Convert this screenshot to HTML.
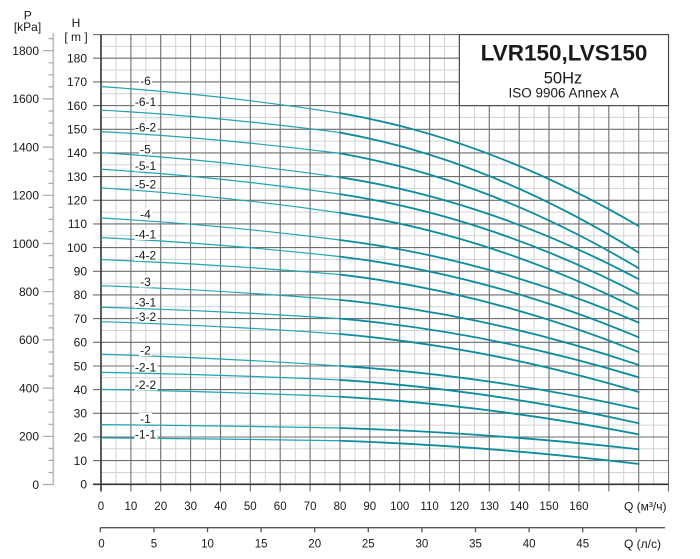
<!DOCTYPE html>
<html><head><meta charset="utf-8"><style>
html,body{margin:0;padding:0;background:#fff;}
svg{display:block;}
text{font-family:"Liberation Sans",Arial,sans-serif;fill:#1a1a1a;}
</style></head><body>
<svg width="700" height="559" viewBox="0 0 700 559" xmlns="http://www.w3.org/2000/svg">
<rect width="700" height="559" fill="#fff"/>
<!-- minor grid -->
<path fill="none" stroke="#d2d2d2" stroke-width="1" d="
M115.9 34.6V484.3M145.8 34.6V484.3M175.7 34.6V484.3M205.5 34.6V484.3M235.4 34.6V484.3M265.3 34.6V484.3M295.2 34.6V484.3M325 34.6V484.3M354.9 34.6V484.3M384.8 34.6V484.3M414.6 34.6V484.3M444.5 34.6V484.3M474.4 34.6V484.3M504.2 34.6V484.3M534.1 34.6V484.3M564 34.6V484.3M593.9 34.6V484.3M623.7 34.6V484.3M653.6 34.6V484.3
M101 472.5H668.5M101 448.8H668.5M101 425.1H668.5M101 401.5H668.5M101 377.8H668.5M101 354.1H668.5M101 330.5H668.5M101 306.8H668.5M101 283.1H668.5M101 259.4H668.5M101 235.8H668.5M101 212.1H668.5M101 188.4H668.5M101 164.8H668.5M101 141.1H668.5M101 117.4H668.5M101 93.8H668.5M101 70.1H668.5M101 46.4H668.5"/>
<!-- major grid -->
<path fill="none" stroke="#6e6e6e" stroke-width="1.1" d="
M130.9 34.6V491.5M160.7 34.6V491.5M190.6 34.6V491.5M220.5 34.6V491.5M250.3 34.6V491.5M280.2 34.6V491.5M310.1 34.6V491.5M340 34.6V491.5M369.8 34.6V491.5M399.7 34.6V491.5M429.6 34.6V491.5M459.4 34.6V491.5M489.3 34.6V491.5M519.2 34.6V491.5M549 34.6V491.5M578.9 34.6V491.5M608.8 34.6V491.5M638.7 34.6V491.5M668.5 34.6V491.5
M93 460.6H668.5M93 437H668.5M93 413.3H668.5M93 389.6H668.5M93 366H668.5M93 342.3H668.5M93 318.6H668.5M93 294.9H668.5M93 271.3H668.5M93 247.6H668.5M93 223.9H668.5M93 200.3H668.5M93 176.6H668.5M93 152.9H668.5M93 129.3H668.5M93 105.6H668.5M93 81.9H668.5M93 58.2H668.5M93 34.6H668.5"/>
<!-- axes -->
<path fill="none" stroke="#333" stroke-width="1.6" d="M101 34.6V491.5M93 484.3H668.5"/>
<!-- title box -->
<rect x="459.4" y="34.6" width="209.1" height="71" fill="#fff" stroke="#444" stroke-width="1.1"/>
<text x="564" y="60.7" font-size="22.5" font-weight="bold" text-anchor="middle">LVR150,LVS150</text>
<text x="563" y="83.3" font-size="16.5" text-anchor="middle">50Hz</text>
<text x="563.7" y="97.7" font-size="13.5" text-anchor="middle">ISO 9906 Annex A</text>
<!-- curves: segment 0-80 -->
<g fill="none" stroke="#23a3b3" stroke-width="1.2">
<path d="M101 86.64Q220.48 94.6 339.96 113.15"/>
<path d="M101 110.08Q220.48 116.82 339.96 132.56"/>
<path d="M101 131.62Q220.48 138.15 339.96 153.39"/>
<path d="M101 152.68Q220.48 160.07 339.96 177.3"/>
<path d="M101 169.25Q220.48 176.71 339.96 194.11"/>
<path d="M101 187.95Q220.48 195.41 339.96 212.81"/>
<path d="M101 218.01Q220.48 224.62 339.96 240.03"/>
<path d="M101 237.66Q220.48 243.34 339.96 256.6"/>
<path d="M101 259.67Q220.48 264.15 339.96 274.58"/>
<path d="M101 285.71Q220.48 289.97 339.96 299.91"/>
<path d="M101 307.25Q220.48 310.66 339.96 318.61"/>
<path d="M101 321.69Q220.48 325.38 339.96 334"/>
<path d="M101 354.35Q220.48 357.83 339.96 365.95"/>
<path d="M101 372.34Q220.48 374.61 339.96 379.92"/>
<path d="M101 389.38Q220.48 391.59 339.96 396.72"/>
<path d="M101 424.65Q220.48 425.65 339.96 427.97"/>
<path d="M101 437.91Q220.48 438.76 339.96 440.75"/>
</g>
<!-- curves: segment 80-180 -->
<g fill="none" stroke="#0c8c9c" stroke-width="1.8" stroke-linecap="round">
<path d="M339.96 113.15Q489.31 138.55 638.66 226.06"/>
<path d="M339.96 132.56Q489.31 159.57 638.66 252.57"/>
<path d="M339.96 153.39Q489.31 179.22 638.66 268.19"/>
<path d="M339.96 177.3Q489.31 200.19 638.66 279.08"/>
<path d="M339.96 194.11Q489.31 216.59 638.66 293.99"/>
<path d="M339.96 212.81Q489.31 234.53 638.66 309.38"/>
<path d="M339.96 240.03Q489.31 258.61 638.66 322.63"/>
<path d="M339.96 256.6Q489.31 274.75 638.66 337.31"/>
<path d="M339.96 274.58Q489.31 292.01 638.66 351.98"/>
<path d="M339.96 299.91Q489.31 314.56 638.66 365"/>
<path d="M339.96 318.61Q489.31 331.82 638.66 377.31"/>
<path d="M339.96 334Q489.31 347.04 638.66 391.99"/>
<path d="M339.96 365.95Q489.31 375.65 638.66 409.03"/>
<path d="M339.96 379.92Q489.31 389.67 638.66 423.23"/>
<path d="M339.96 396.72Q489.31 405.2 638.66 434.36"/>
<path d="M339.96 427.97Q489.31 432.77 638.66 449.27"/>
<path d="M339.96 440.75Q489.31 445.98 638.66 463.94"/>
</g>
<!-- curve labels -->
<g fill="#fff">
<rect x="139" y="75" width="13" height="11.5"/>
<rect x="134.5" y="96" width="23" height="11.5"/>
<rect x="134.5" y="121.5" width="23" height="11.5"/>
<rect x="139" y="143.5" width="13" height="11.5"/>
<rect x="134.5" y="160" width="23" height="11.5"/>
<rect x="134.5" y="178.5" width="23" height="11.5"/>
<rect x="139" y="208.5" width="13" height="11.5"/>
<rect x="134.5" y="228.5" width="23" height="11.5"/>
<rect x="134.5" y="249.5" width="23" height="11.5"/>
<rect x="139" y="276" width="13" height="11.5"/>
<rect x="134.5" y="296.5" width="23" height="11.5"/>
<rect x="134.5" y="311" width="23" height="11.5"/>
<rect x="139" y="344.5" width="13" height="11.5"/>
<rect x="134.5" y="361" width="23" height="11.5"/>
<rect x="134.5" y="379" width="23" height="11.5"/>
<rect x="139" y="413" width="13" height="11.5"/>
<rect x="134.5" y="428.5" width="23" height="11.5"/>
</g>
<g font-size="12" text-anchor="middle">
<text x="145.5" y="85">-6</text>
<text x="145.5" y="106">-6-1</text>
<text x="145.5" y="131.6">-6-2</text>
<text x="145.5" y="153.6">-5</text>
<text x="145.5" y="170">-5-1</text>
<text x="145.5" y="188.6">-5-2</text>
<text x="145.5" y="218.6">-4</text>
<text x="145.5" y="238.6">-4-1</text>
<text x="145.5" y="259.6">-4-2</text>
<text x="145.5" y="286">-3</text>
<text x="145.5" y="306.6">-3-1</text>
<text x="145.5" y="321">-3-2</text>
<text x="145.5" y="354.6">-2</text>
<text x="145.5" y="371.3">-2-1</text>
<text x="145.5" y="389">-2-2</text>
<text x="145.5" y="423">-1</text>
<text x="145.5" y="438.6">-1-1</text>
</g>
<!-- H axis labels -->
<text x="76" y="27" font-size="12" text-anchor="middle">H</text>
<text x="76" y="40.8" font-size="12" text-anchor="middle">[ m ]</text>
<g font-size="12" text-anchor="end">
<text x="87" y="488.6">0</text>
<text x="87" y="464.9">10</text>
<text x="87" y="441.3">20</text>
<text x="87" y="417.6">30</text>
<text x="87" y="393.9">40</text>
<text x="87" y="370.3">50</text>
<text x="87" y="346.6">60</text>
<text x="87" y="322.9">70</text>
<text x="87" y="299.2">80</text>
<text x="87" y="275.6">90</text>
<text x="87" y="251.9">100</text>
<text x="87" y="228.2">110</text>
<text x="87" y="204.6">120</text>
<text x="87" y="180.9">130</text>
<text x="87" y="157.2">140</text>
<text x="87" y="133.6">150</text>
<text x="87" y="109.9">160</text>
<text x="87" y="86.2">170</text>
<text x="87" y="62.5">180</text>
</g>
<!-- P axis -->
<text x="27.7" y="19.3" font-size="12" text-anchor="middle">P</text>
<text x="27.5" y="30.8" font-size="12" text-anchor="middle">[kPa]</text>
<path fill="none" stroke="#bdbdbd" stroke-width="1.6" d="M53.3 33V485"/>
<path fill="none" stroke="#a8a8a8" stroke-width="1.2" d="
M43 50.7H53.3M43 98.9H53.3M43 147.1H53.3M43 195.3H53.3M43 243.5H53.3M43 291.7H53.3M43 339.9H53.3M43 388.1H53.3M43 436.3H53.3M43 484.5H53.3
M48.5 38.6H53.3M48.5 62.8H53.3M48.5 74.8H53.3M48.5 86.9H53.3M48.5 111H53.3M48.5 123H53.3M48.5 135.1H53.3M48.5 159.2H53.3M48.5 171.2H53.3M48.5 183.3H53.3M48.5 207.4H53.3M48.5 219.4H53.3M48.5 231.5H53.3M48.5 255.6H53.3M48.5 267.6H53.3M48.5 279.7H53.3M48.5 303.8H53.3M48.5 315.8H53.3M48.5 327.9H53.3M48.5 352H53.3M48.5 364H53.3M48.5 376.1H53.3M48.5 400.2H53.3M48.5 412.2H53.3M48.5 424.3H53.3M48.5 448.4H53.3M48.5 460.4H53.3M48.5 472.5H53.3"/>
<g font-size="12" text-anchor="end">
<text x="39" y="488.8">0</text>
<text x="39" y="440.6">200</text>
<text x="39" y="392.4">400</text>
<text x="39" y="344.2">600</text>
<text x="39" y="296">800</text>
<text x="39" y="247.8">1000</text>
<text x="39" y="199.6">1200</text>
<text x="39" y="151.4">1400</text>
<text x="39" y="103.2">1600</text>
<text x="39" y="55">1800</text>
</g>
<!-- Q m3/h labels -->
<g font-size="11.5" text-anchor="middle">
<text x="101" y="510.2">0</text>
<text x="130.9" y="510.2">10</text>
<text x="160.7" y="510.2">20</text>
<text x="190.6" y="510.2">30</text>
<text x="220.5" y="510.2">40</text>
<text x="250.3" y="510.2">50</text>
<text x="280.2" y="510.2">60</text>
<text x="310.1" y="510.2">70</text>
<text x="340" y="510.2">80</text>
<text x="369.8" y="510.2">90</text>
<text x="399.7" y="510.2">100</text>
<text x="429.6" y="510.2">110</text>
<text x="459.4" y="510.2">120</text>
<text x="489.3" y="510.2">130</text>
<text x="519.2" y="510.2">140</text>
<text x="549" y="510.2">150</text>
<text x="578.9" y="510.2">160</text>
</g>
<text x="624" y="510.4" font-size="12">Q (м³/ч)</text>
<!-- Q l/s axis -->
<path fill="none" stroke="#555" stroke-width="1.3" d="M100.3 527.7H665M100.3 527.7V532.2M153.9 527.7V532.2M207.5 527.7V532.2M261.1 527.7V532.2M314.7 527.7V532.2M368.3 527.7V532.2M421.9 527.7V532.2M475.5 527.7V532.2M529.1 527.7V532.2M582.7 527.7V532.2M636.3 527.7V532.2"/>
<g font-size="11.5" text-anchor="middle">
<text x="101.5" y="547.6">0</text>
<text x="153.9" y="547.6">5</text>
<text x="207.5" y="547.6">10</text>
<text x="261.1" y="547.6">15</text>
<text x="314.7" y="547.6">20</text>
<text x="368.3" y="547.6">25</text>
<text x="421.9" y="547.6">30</text>
<text x="475.5" y="547.6">35</text>
<text x="529.1" y="547.6">40</text>
<text x="582.7" y="547.6">45</text>
</g>
<text x="624" y="547.8" font-size="12">Q (л/с)</text>
</svg>
</body></html>
